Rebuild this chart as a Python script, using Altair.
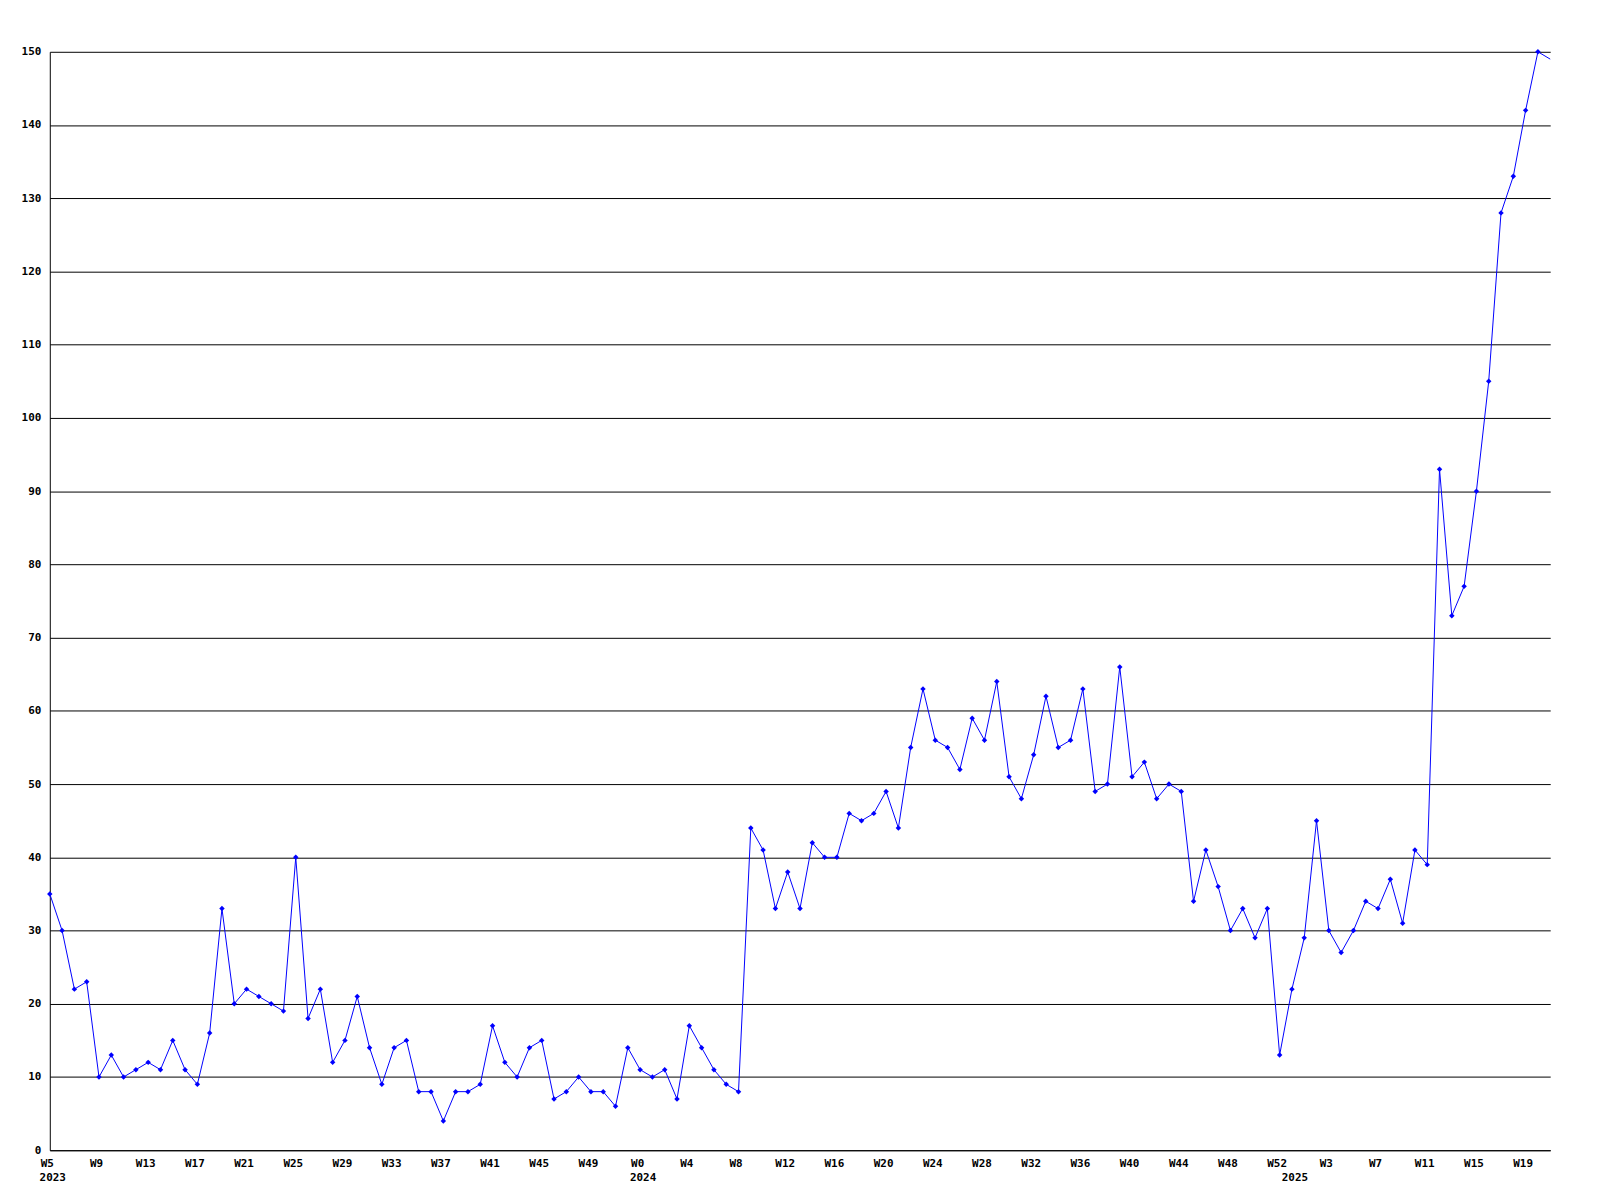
import altair as alt
import pandas as pd

# weekly values (2023 W5 .. 2025 W21)
values_2023 = [35, 30, 22, 23, 10, 13, 10, 11, 12, 11, 15, 11, 9, 16, 33, 20, 22, 21, 20, 19,
               40, 18, 22, 12, 15, 21, 14, 9, 14, 15, 8, 8, 4, 8, 8, 9, 17, 12, 10, 14,
               15, 7, 8, 10, 8, 8, 6, 14]
values_2024 = [11, 10, 11, 7, 17, 14, 11, 9, 8, 44, 41, 33, 38, 33, 42, 40, 40, 46, 45, 46,
               49, 44, 55, 63, 56, 55, 52, 59, 56, 64, 51, 48, 54, 62, 55, 56, 63, 49, 50, 66,
               51, 53, 48, 50, 49, 34, 41, 36, 30, 33, 29, 33, 13]
values_2025 = [22, 29, 45, 30, 27, 30, 34, 33, 37, 31, 41, 39, 93, 73, 77, 90, 105, 128, 133, 142,
               150, 149]

weeks_2023 = [f"W{w}" for w in range(5, 53)]
weeks_2024 = [f"W{w}" for w in range(0, 53)]
weeks_2025 = [f"W{w}" for w in range(0, 22)]

years = ["2023", "2024", "2025"]

week_labels = weeks_2023 + weeks_2024 + weeks_2025
values = values_2023 + values_2024 + values_2025
idx = list(range(len(values)))
year_start = [0, len(weeks_2023), len(weeks_2023) + len(weeks_2024)]

tick_values = list(range(0, len(values), 4))
tick_labels = [week_labels[i] for i in tick_values]
label_expr = "[" + ",".join(f"'{t}'" for t in tick_labels) + "][round(datum.value/4)]"

df = pd.DataFrame({"i": idx, "v": values, "week": week_labels})
df_pts = df[df["i"] < len(values) - 1]
df_years = pd.DataFrame({"i": year_start, "year": years})

FONT = "DejaVu Sans Mono"
BLUE = "#0000ff"
W, H = 1508, 1104

xscale = alt.Scale(domain=[0, len(values) - 1], nice=False, zero=False)
yscale = alt.Scale(domain=[0, 150], nice=False)

x_enc = alt.X("i:Q", scale=xscale,
              axis=alt.Axis(values=tick_values, labelExpr=label_expr, title=None,
                            grid=False, ticks=False, domain=True, domainColor="black",
                            labelPadding=7, labelOffset=-3, labelFont=FONT,
                            labelFontWeight="bold", labelFontSize=11, labelColor="black",
                            labelOverlap=False, labelFlush=False))
y_enc = alt.Y("v:Q", scale=yscale,
              axis=alt.Axis(values=list(range(0, 151, 10)), title=None, grid=True,
                            gridColor="black", gridOpacity=1, gridWidth=1,
                            ticks=False, domain=True, domainColor="black",
                            labelPadding=9, labelFont=FONT, labelFontWeight="bold",
                            labelFontSize=11, labelColor="black"))

line = alt.Chart(df).mark_line(color=BLUE, strokeWidth=1).encode(x=x_enc, y=y_enc)
pts = alt.Chart(df_pts).mark_point(shape="diamond", filled=True, size=30, color=BLUE,
                                   opacity=1).encode(x=alt.X("i:Q", scale=xscale),
                                                     y=alt.Y("v:Q", scale=yscale))
year_text = alt.Chart(df_years).mark_text(font=FONT, fontWeight="bold", fontSize=11,
                                          color="black", align="center", baseline="middle",
                                          dx=3).encode(
    x=alt.X("i:Q", scale=xscale), y=alt.value(H + 28), text="year:N")

chart = (line + pts + year_text).properties(
    width=W, height=H,
    padding={"left": 42, "top": 41, "right": 42, "bottom": 46},
    autosize=alt.AutoSizeParams(type="none"),
    background="white",
).configure_view(stroke=None)

chart.save("out.html", embed_options={"renderer": "svg", "actions": False})
